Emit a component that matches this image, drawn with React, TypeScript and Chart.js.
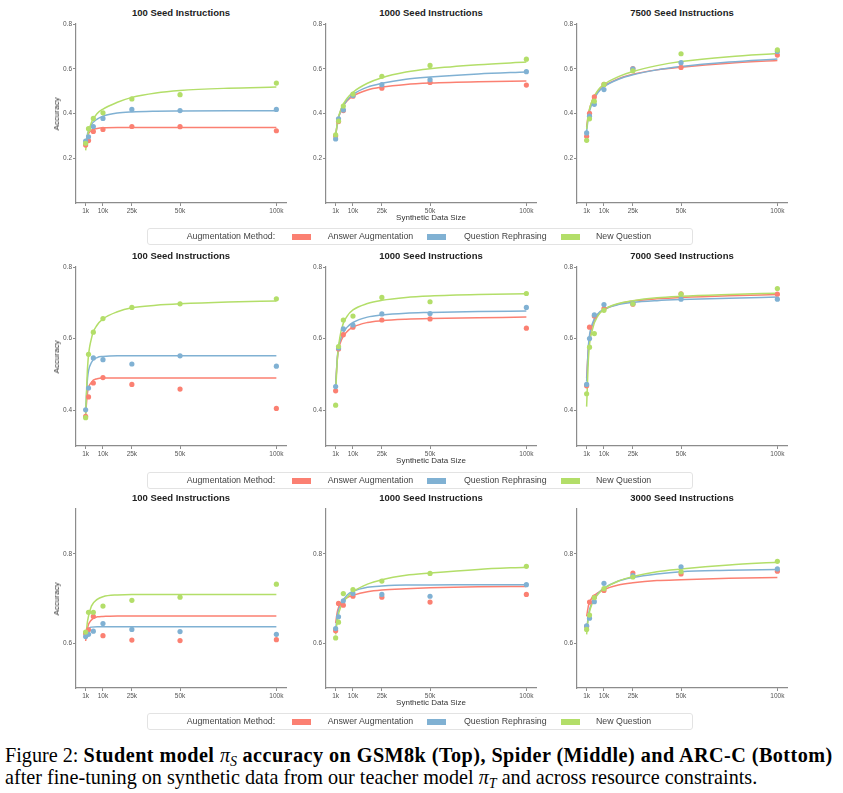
import React, { useEffect, useRef } from "react";
import { Chart, registerables } from "chart.js";

Chart.register(...registerables);

const SANS = '"Liberation Sans", Arial, Helvetica, sans-serif';
const SERIF = '"Liberation Serif", "Times New Roman", Times, serif';

// ---------- shared categories / labels ----------
const seriesNames = ["Answer Augmentation", "Question Rephrasing", "New Question"];
const seriesColors = ["#fb8072", "#80b1d3", "#b3de69"];
const legendTitle = "Augmentation Method:";
const pointX = [1000, 2500, 5000, 10000, 25000, 50000, 100000];
const fitX = [1000, 2000, 4000, 7000, 10000, 17500, 25000, 37500, 50000, 75000, 100000];
const xTickValues = [1000, 10000, 25000, 50000, 100000];
const xTickLabels = ["1k", "10k", "25k", "50k", "100k"];
const yAxisTitle = "Accuracy";
const xAxisTitle = "Synthetic Data Size";

// ---------- Row 1: GSM8k ----------
const gsmTitles = ["100 Seed Instructions", "1000 Seed Instructions", "7500 Seed Instructions"];
const gsmYTicks = [0.2, 0.4, 0.6, 0.8];
const gsmYRange = [0.0, 0.8];

const gsm100Answer = [0.259, 0.279, 0.32, 0.329, 0.342, 0.341, 0.323];
const gsm100Rephrase = [0.277, 0.296, 0.342, 0.378, 0.418, 0.413, 0.418];
const gsm100New = [0.267, 0.332, 0.378, 0.403, 0.465, 0.484, 0.536];
const gsm100AnswerFit = [0.26, 0.3, 0.325, 0.333, 0.336, 0.337, 0.337, 0.337, 0.337, 0.337, 0.337];
const gsm100RephraseFit = [0.265, 0.31, 0.35, 0.375, 0.388, 0.402, 0.407, 0.41, 0.411, 0.412, 0.412];
const gsm100NewFit = [0.235, 0.3, 0.36, 0.4, 0.42, 0.45, 0.472, 0.492, 0.503, 0.513, 0.518];

const gsm1000Answer = [0.299, 0.364, 0.413, 0.477, 0.513, 0.539, 0.527];
const gsm1000Rephrase = [0.286, 0.376, 0.416, 0.481, 0.529, 0.551, 0.587];
const gsm1000New = [0.305, 0.366, 0.433, 0.487, 0.566, 0.615, 0.643];
const gsm1000AnswerFit = [0.3, 0.36, 0.42, 0.457, 0.478, 0.505, 0.518, 0.53, 0.536, 0.542, 0.545];
const gsm1000RephraseFit = [0.3, 0.36, 0.42, 0.46, 0.485, 0.518, 0.535, 0.553, 0.563, 0.577, 0.586];
const gsm1000NewFit = [0.3, 0.365, 0.425, 0.468, 0.495, 0.535, 0.56, 0.585, 0.6, 0.618, 0.63];

const gsm7500Answer = [0.298, 0.401, 0.474, 0.53, 0.601, 0.606, 0.661];
const gsm7500Rephrase = [0.313, 0.388, 0.441, 0.507, 0.599, 0.627, 0.677];
const gsm7500New = [0.28, 0.376, 0.455, 0.53, 0.591, 0.667, 0.684];
const gsm7500AnswerFit = [0.34, 0.4, 0.46, 0.5, 0.522, 0.555, 0.575, 0.595, 0.607, 0.625, 0.637];
const gsm7500RephraseFit = [0.32, 0.39, 0.45, 0.495, 0.52, 0.553, 0.573, 0.595, 0.61, 0.63, 0.644];
const gsm7500NewFit = [0.33, 0.4, 0.46, 0.505, 0.53, 0.565, 0.588, 0.614, 0.632, 0.654, 0.668];

// ---------- Row 2: Spider ----------
const spiderTitles = ["100 Seed Instructions", "1000 Seed Instructions", "7000 Seed Instructions"];
const spiderYTicks = [0.4, 0.6, 0.8];
const spiderYRange = [0.3, 0.8];

const sp100Answer = [0.383, 0.437, 0.476, 0.491, 0.472, 0.459, 0.405];
const sp100Rephrase = [0.401, 0.462, 0.546, 0.541, 0.529, 0.552, 0.523];
const sp100New = [0.379, 0.556, 0.618, 0.656, 0.687, 0.697, 0.711];
const sp100AnswerFit = [0.39, 0.45, 0.478, 0.488, 0.49, 0.49, 0.49, 0.49, 0.49, 0.49, 0.49];
const sp100RephraseFit = [0.4, 0.49, 0.533, 0.547, 0.55, 0.552, 0.552, 0.552, 0.552, 0.552, 0.552];
const sp100NewFit = [0.38, 0.52, 0.6, 0.638, 0.655, 0.675, 0.686, 0.693, 0.697, 0.702, 0.705];

const sp1000Answer = [0.454, 0.571, 0.611, 0.632, 0.652, 0.655, 0.629];
const sp1000Rephrase = [0.466, 0.574, 0.627, 0.638, 0.669, 0.67, 0.687];
const sp1000New = [0.414, 0.578, 0.652, 0.663, 0.715, 0.703, 0.726];
const sp1000AnswerFit = [0.47, 0.55, 0.596, 0.62, 0.632, 0.645, 0.65, 0.654, 0.656, 0.658, 0.66];
const sp1000RephraseFit = [0.47, 0.555, 0.605, 0.632, 0.645, 0.66, 0.666, 0.671, 0.673, 0.676, 0.677];
const sp1000NewFit = [0.45, 0.55, 0.625, 0.663, 0.68, 0.698, 0.707, 0.715, 0.719, 0.723, 0.725];

const sp7000Answer = [0.468, 0.632, 0.663, 0.684, 0.696, 0.725, 0.724];
const sp7000Rephrase = [0.472, 0.6, 0.666, 0.695, 0.698, 0.71, 0.71];
const sp7000New = [0.446, 0.576, 0.614, 0.679, 0.697, 0.724, 0.74];
const sp7000AnswerFit = [0.49, 0.58, 0.637, 0.668, 0.681, 0.697, 0.705, 0.711, 0.715, 0.72, 0.723];
const sp7000RephraseFit = [0.48, 0.585, 0.642, 0.67, 0.682, 0.695, 0.701, 0.706, 0.709, 0.713, 0.716];
const sp7000NewFit = [0.41, 0.55, 0.625, 0.665, 0.681, 0.698, 0.706, 0.714, 0.718, 0.723, 0.727];

// ---------- Row 3: ARC-C ----------
const arcTitles = ["100 Seed Instructions", "1000 Seed Instructions", "3000 Seed Instructions"];
const arcYTicks = [0.6, 0.8];
const arcYRange = [0.5, 0.9];

const arc100Answer = [0.622, 0.63, 0.66, 0.617, 0.607, 0.606, 0.608];
const arc100Rephrase = [0.615, 0.62, 0.627, 0.644, 0.631, 0.626, 0.62];
const arc100New = [0.625, 0.669, 0.669, 0.683, 0.696, 0.703, 0.732];
const arc100AnswerFit = [0.605, 0.635, 0.652, 0.659, 0.66, 0.661, 0.661, 0.661, 0.661, 0.661, 0.661];
const arc100RephraseFit = [0.615, 0.63, 0.636, 0.637, 0.637, 0.637, 0.637, 0.637, 0.637, 0.637, 0.637];
const arc100NewFit = [0.61, 0.65, 0.683, 0.698, 0.704, 0.708, 0.709, 0.709, 0.709, 0.709, 0.709];

const arc1000Answer = [0.628, 0.689, 0.685, 0.705, 0.703, 0.692, 0.709];
const arc1000Rephrase = [0.633, 0.659, 0.695, 0.711, 0.709, 0.705, 0.731];
const arc1000New = [0.612, 0.647, 0.711, 0.72, 0.739, 0.756, 0.772];
const arc1000AnswerFit = [0.645, 0.673, 0.692, 0.702, 0.707, 0.715, 0.719, 0.722, 0.724, 0.726, 0.727];
const arc1000RephraseFit = [0.63, 0.665, 0.69, 0.708, 0.716, 0.725, 0.728, 0.73, 0.73, 0.731, 0.731];
const arc1000NewFit = [0.62, 0.655, 0.685, 0.703, 0.715, 0.732, 0.742, 0.752, 0.757, 0.765, 0.77];

const arc3000Answer = [0.638, 0.692, 0.703, 0.718, 0.757, 0.755, 0.761];
const arc3000Rephrase = [0.639, 0.656, 0.693, 0.734, 0.751, 0.771, 0.766];
const arc3000New = [0.631, 0.663, 0.702, 0.722, 0.748, 0.76, 0.783];
const arc3000AnswerFit = [0.66, 0.685, 0.703, 0.713, 0.72, 0.73, 0.735, 0.74, 0.742, 0.745, 0.747];
const arc3000RephraseFit = [0.63, 0.665, 0.693, 0.712, 0.723, 0.739, 0.747, 0.755, 0.76, 0.763, 0.765];
const arc3000NewFit = [0.62, 0.66, 0.69, 0.71, 0.722, 0.739, 0.749, 0.76, 0.766, 0.775, 0.781];

// ---------- geometry ----------
const X_MIN = -4000;
const X_MAX = 105000;
const AREA_W = 210;
const AREA_H = 179;
const AXIS_W = 32;
const AXIS_H = 20;
const PAD_T = 6;
const PAD_R = 8;
const colLefts = [76, 326, 577];
const rowTops = [24, 267, 509];
const legendTops = [228, 472, 713];
const AXIS_COLOR = "#8c8c8c";
const TICK_COLOR = "#555";

type PanelProps = {
  left: number;
  top: number;
  yRange: number[];
  yTicks: number[];
  points: number[][];
  fits: number[][];
};

function Panel({ left, top, yRange, yTicks, points, fits }: PanelProps) {
  const ref = useRef<HTMLCanvasElement>(null);
  useEffect(() => {
    if (!ref.current) return;
    const datasets: any[] = [];
    for (let i = 0; i < 3; i++) {
      datasets.push({
        label: seriesNames[i] + " fit",
        data: fitX.map((x, j) => ({ x, y: fits[i][j] })),
        showLine: true,
        borderColor: seriesColors[i],
        backgroundColor: seriesColors[i],
        borderWidth: 1.5,
        pointRadius: 0,
        cubicInterpolationMode: "monotone",
        fill: false,
        order: 6 - i,
      });
      datasets.push({
        label: seriesNames[i],
        data: pointX.map((x, j) => ({ x, y: points[i][j] })),
        showLine: false,
        pointRadius: 2.6,
        pointBorderWidth: 0,
        pointBackgroundColor: seriesColors[i],
        backgroundColor: seriesColors[i],
        borderColor: seriesColors[i],
        order: 3 - i,
      });
    }
    const chart = new Chart(ref.current, {
      type: "scatter",
      data: { datasets },
      options: {
        animation: false,
        responsive: false,
        maintainAspectRatio: false,
        devicePixelRatio: 1,
        layout: { padding: { left: 0, right: PAD_R, top: PAD_T, bottom: 0 } },
        plugins: {
          legend: { display: false },
          tooltip: { enabled: false },
          title: { display: false },
        },
        scales: {
          x: {
            type: "linear",
            min: X_MIN,
            max: X_MAX,
            afterBuildTicks: (s: any) => {
              s.ticks = xTickValues.map((v) => ({ value: v }));
            },
            afterFit: (s: any) => {
              s.height = AXIS_H;
            },
            ticks: {
              autoSkip: false,
              maxRotation: 0,
              padding: 1,
              color: TICK_COLOR,
              font: { family: SANS, size: 6.5 },
              callback: (v: any) => {
                const k = xTickValues.indexOf(Number(v));
                return k >= 0 ? xTickLabels[k] : "";
              },
            },
            grid: { drawOnChartArea: false, drawTicks: true, tickLength: 3, color: AXIS_COLOR },
            border: { display: true, color: AXIS_COLOR, width: 1.2 },
          },
          y: {
            type: "linear",
            min: yRange[0],
            max: yRange[1],
            afterBuildTicks: (s: any) => {
              s.ticks = yTicks.map((v) => ({ value: v }));
            },
            afterFit: (s: any) => {
              s.width = AXIS_W;
            },
            ticks: {
              autoSkip: false,
              padding: 1,
              color: TICK_COLOR,
              font: { family: SANS, size: 6.5 },
              callback: (v: any) => Number(v).toFixed(1),
            },
            grid: { drawOnChartArea: false, drawTicks: true, tickLength: 3, color: AXIS_COLOR },
            border: { display: true, color: AXIS_COLOR, width: 1.2 },
          },
        },
      } as any,
    });
    return () => chart.destroy();
  }, []);
  const w = AXIS_W + AREA_W + PAD_R;
  const h = PAD_T + AREA_H + AXIS_H;
  return (
    <canvas
      ref={ref}
      width={w}
      height={h}
      style={{ position: "absolute", left: left - AXIS_W, top: top - PAD_T, width: w, height: h }}
    />
  );
}

function Legend({ top }: { top: number }) {
  const L = 147;
  const swatchLefts = [291.7, 427.3, 560.7];
  const textLefts = [327.7, 464, 596];
  return (
    <div
      style={{
        position: "absolute",
        left: L,
        top,
        width: 546,
        height: 17,
        boxSizing: "border-box",
        border: "1px solid #e3e3e3",
        borderRadius: 3,
        fontFamily: SANS,
        fontSize: 8.8,
        color: "#444",
        lineHeight: "15px",
        whiteSpace: "nowrap",
      }}
    >
      <span style={{ position: "absolute", left: 186.7 - L - 1, top: 0 }}>{legendTitle}</span>
      {seriesNames.map((n, i) => (
        <React.Fragment key={n}>
          <span
            style={{
              position: "absolute",
              left: swatchLefts[i] - L - 1,
              top: 4.5,
              width: 19,
              height: 6,
              background: seriesColors[i],
            }}
          />
          <span style={{ position: "absolute", left: textLefts[i] - L - 1, top: 0 }}>{n}</span>
        </React.Fragment>
      ))}
    </div>
  );
}

const rows = [
  {
    titles: gsmTitles,
    yTicks: gsmYTicks,
    yRange: gsmYRange,
    panels: [
      { points: [gsm100Answer, gsm100Rephrase, gsm100New], fits: [gsm100AnswerFit, gsm100RephraseFit, gsm100NewFit] },
      { points: [gsm1000Answer, gsm1000Rephrase, gsm1000New], fits: [gsm1000AnswerFit, gsm1000RephraseFit, gsm1000NewFit] },
      { points: [gsm7500Answer, gsm7500Rephrase, gsm7500New], fits: [gsm7500AnswerFit, gsm7500RephraseFit, gsm7500NewFit] },
    ],
  },
  {
    titles: spiderTitles,
    yTicks: spiderYTicks,
    yRange: spiderYRange,
    panels: [
      { points: [sp100Answer, sp100Rephrase, sp100New], fits: [sp100AnswerFit, sp100RephraseFit, sp100NewFit] },
      { points: [sp1000Answer, sp1000Rephrase, sp1000New], fits: [sp1000AnswerFit, sp1000RephraseFit, sp1000NewFit] },
      { points: [sp7000Answer, sp7000Rephrase, sp7000New], fits: [sp7000AnswerFit, sp7000RephraseFit, sp7000NewFit] },
    ],
  },
  {
    titles: arcTitles,
    yTicks: arcYTicks,
    yRange: arcYRange,
    panels: [
      { points: [arc100Answer, arc100Rephrase, arc100New], fits: [arc100AnswerFit, arc100RephraseFit, arc100NewFit] },
      { points: [arc1000Answer, arc1000Rephrase, arc1000New], fits: [arc1000AnswerFit, arc1000RephraseFit, arc1000NewFit] },
      { points: [arc3000Answer, arc3000Rephrase, arc3000New], fits: [arc3000AnswerFit, arc3000RephraseFit, arc3000NewFit] },
    ],
  },
];

const subStyle: React.CSSProperties = { fontSize: 14, position: "relative", top: 4, fontWeight: 400 };

export default function App() {
  return (
    <div
      style={{
        position: "absolute",
        left: 0,
        top: 0,
        width: 843,
        height: 793,
        background: "#fff",
        overflow: "hidden",
      }}
    >
      {rows.map((row, r) => (
        <React.Fragment key={r}>
          {row.panels.map((p, c) => (
            <React.Fragment key={c}>
              <div
                style={{
                  position: "absolute",
                  left: colLefts[c],
                  top: rowTops[r] - 17.5,
                  width: AREA_W,
                  height: 12,
                  lineHeight: "12px",
                  textAlign: "center",
                  fontFamily: SANS,
                  fontWeight: 700,
                  fontSize: 9.5,
                  color: "#222",
                  whiteSpace: "nowrap",
                }}
              >
                {row.titles[c]}
              </div>
              <Panel
                left={colLefts[c]}
                top={rowTops[r]}
                yRange={row.yRange}
                yTicks={row.yTicks}
                points={p.points}
                fits={p.fits}
              />
            </React.Fragment>
          ))}
          <div
            style={{
              position: "absolute",
              left: 57,
              top: rowTops[r] + AREA_H / 2,
              transform: "translate(-50%, -50%) rotate(-90deg)",
              fontFamily: SANS,
              fontSize: 8,
              color: "#333",
              whiteSpace: "nowrap",
              lineHeight: "10px",
            }}
          >
            {yAxisTitle}
          </div>
          <div
            style={{
              position: "absolute",
              left: colLefts[1],
              top: rowTops[r] + AREA_H + 15.2 - 5,
              width: AREA_W,
              textAlign: "center",
              fontFamily: SANS,
              fontSize: 8,
              color: "#333",
              lineHeight: "10px",
              whiteSpace: "nowrap",
            }}
          >
            {xAxisTitle}
          </div>
          <Legend top={legendTops[r]} />
        </React.Fragment>
      ))}
      <div
        style={{
          position: "absolute",
          left: 5,
          top: 746.4,
          fontFamily: SERIF,
          fontSize: 20.2,
          lineHeight: "19.5px",
          color: "#000",
          whiteSpace: "nowrap",
        }}
      >
        <div>
          Figure 2:{" "}
          <b style={{ letterSpacing: 0.45 }}>
            Student model{" "}
            <span style={{ fontWeight: 400, letterSpacing: 0 }}>
              <i>π</i>
              <i style={subStyle}>S</i>
            </span>{" "}
            accuracy on GSM8k (Top), Spider (Middle) and ARC-C (Bottom)
          </b>
        </div>
        <div>
          after fine-tuning on synthetic data from our teacher model <i>π</i>
          <i style={subStyle}>T</i> and across resource constraints.
        </div>
      </div>
    </div>
  );
}
